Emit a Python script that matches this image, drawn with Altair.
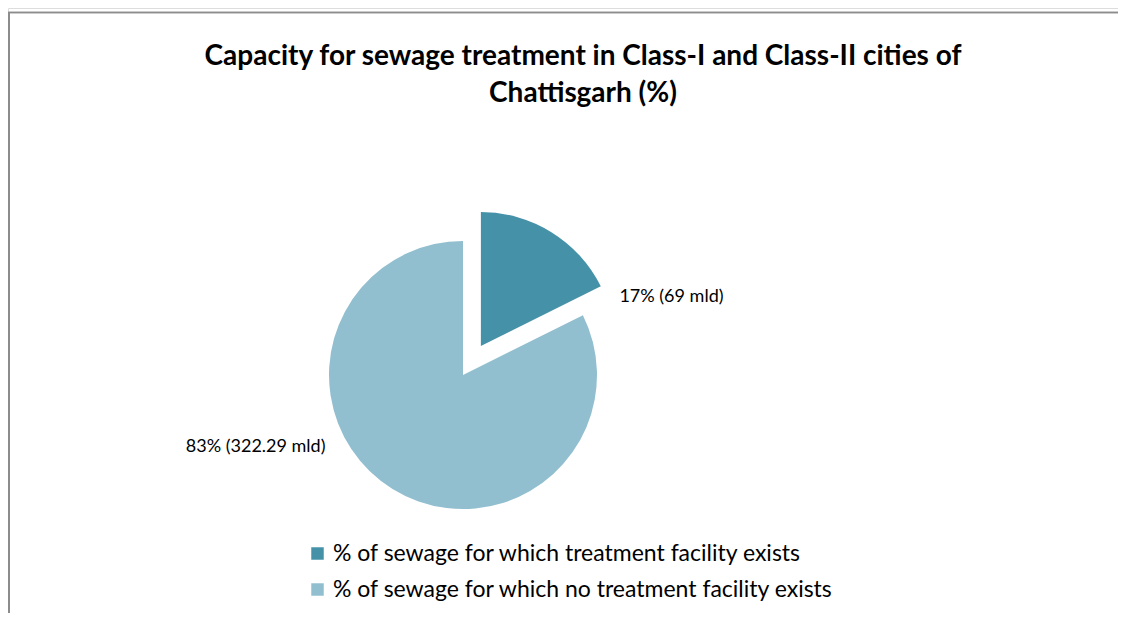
import altair as alt
import pandas as pd

# ---- data ----
categories = [
    "% of sewage for which  treatment facility exists",
    "% of sewage for which no treatment facility exists",
]
mld = [69, 322.29]
percent = [17, 83]
order = [0, 1]
colors = ["#4592A8", "#92BFCF"]

df = pd.DataFrame({
    "category": categories,
    "mld": mld,
    "percent": percent,
    "order": order,
})
df["label"] = [f"{p}% ({m:g} mld)" for p, m in zip(percent, mld)]

# ---- style / layout constants ----
W, H = 1110, 605
CX, CY = 455, 367        # pie centre (px)
R = 134                  # pie radius (px)
EXPLODE = 34             # explode distance of first slice (px)
FONT = "Lato"
FRAME = "#8C8C8C"

base = (
    alt.Chart(df)
    .transform_joinaggregate(total="sum(mld)")
    .transform_window(cum="sum(mld)", sort=[alt.SortField("order")], frame=[None, 0])
    .transform_calculate(
        start="(datum.cum - datum.mld) / datum.total * 2 * PI",
        end="datum.cum / datum.total * 2 * PI",
    )
    .transform_calculate(mid="(datum.start + datum.end) / 2",
                         ex=f"datum.order == 0 ? {EXPLODE} : 0")
    .transform_calculate(
        cx=f"{CX} + datum.ex * sin(datum.mid)",
        cy=f"{CY} - datum.ex * cos(datum.mid)",
    )
    .transform_calculate(
        lx=f"datum.cx + {R} * sin(datum.mid)",
        ly=f"datum.cy - {R} * cos(datum.mid)",
    )
)

pie = base.mark_arc(radius=R, strokeWidth=0).encode(
    theta=alt.Theta("start:Q", scale=None),
    theta2="end:Q",
    x=alt.X("cx:Q", scale=None),
    y=alt.Y("cy:Q", scale=None),
    color=alt.Color(
        "category:N",
        scale=alt.Scale(domain=categories, range=colors),
        sort=categories,
        legend=alt.Legend(
            title=None,
            orient="none",
            legendX=298,
            legendY=534,
            symbolType="square",
            symbolSize=156,
            symbolStrokeWidth=0,
            labelFont=FONT,
            labelFontSize=23,
            labelColor="#000000",
            labelLimit=0,
            labelOffset=4,
            rowPadding=12,
        ),
    ),
)

lab1 = base.transform_filter("datum.order == 0").mark_text(
    align="left", baseline="middle", dx=68, dy=65, font=FONT, fontSize=18, color="#000000"
).encode(x=alt.X("lx:Q", scale=None), y=alt.Y("ly:Q", scale=None), text="label:N")

lab2 = base.transform_filter("datum.order == 1").mark_text(
    align="right", baseline="middle", dx=-67, dy=-42, font=FONT, fontSize=18, color="#000000"
).encode(x=alt.X("lx:Q", scale=None), y=alt.Y("ly:Q", scale=None), text="label:N")

frame_top = alt.Chart(df).mark_rule(color=FRAME, strokeWidth=1.5).encode(
    x=alt.value(0), x2=alt.value(W), y=alt.value(4.5)
)
frame_left = alt.Chart(df).mark_rule(color=FRAME, strokeWidth=2).encode(
    x=alt.value(1), y=alt.value(4), y2=alt.value(H)
)

chart = (
    alt.layer(frame_top, frame_left, pie, lab1, lab2)
    .properties(
        width=W,
        height=H,
        padding={"left": 0, "top": 0, "right": 0, "bottom": 0},
        autosize=alt.AutoSizeParams(type="none"),
        title=alt.TitleParams(
            text=["Capacity for sewage treatment  in Class-I and Class-II cities of",
                  "Chattisgarh (%)"],
            font=FONT,
            fontSize=28,
            fontWeight="bold",
            color="#000000",
            anchor="middle",
            lineHeight=37,
            dx=20,
            dy=104,
        ),
    )
    .configure_view(stroke=None)
    .configure(background="white")
)

chart.save("out.html", embed_options={"renderer": "svg", "actions": False})
